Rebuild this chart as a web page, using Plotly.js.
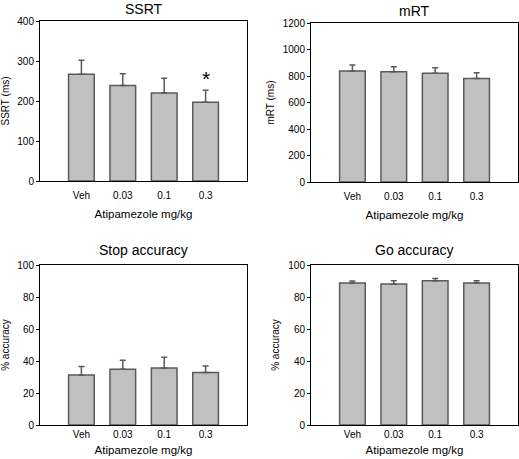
<!DOCTYPE html>
<html><head><meta charset="utf-8">
<script src="https://cdn.plot.ly/plotly-3.0.1.min.js"></script>
<style>body{margin:0;padding:0;background:#fff}#c{width:519px;height:459px}</style>
</head><body><div id="c"></div>
<script>
const doses = ['Veh', '0.03', '0.1', '0.3'];
const ssrtMean = [267, 239, 220, 197];
const ssrtErr  = [35, 29, 37, 30];
const mrtMean  = [838, 832, 820, 782];
const mrtErr   = [45, 38, 42, 43];
const stopMean = [31.2, 34.9, 35.7, 32.8];
const stopErr  = [5.4, 5.6, 6.7, 4.0];
const goMean   = [88.8, 88.2, 90.2, 88.8];
const goErr    = [1.2, 2.0, 1.4, 1.4];

const barFill = '#c0c0c0', barLine = '#5a5a5a';
function bar(y, e, xa, ya) {
  return {type:'bar', x:doses, y:y, xaxis:xa, yaxis:ya, width:0.62,
    marker:{color:barFill, line:{color:barLine, width:1.5}},
    error_y:{type:'data', array:e, symmetric:false, arrayminus:e.map(()=>0), color:barLine, thickness:1.5, width:3},
    hoverinfo:'none', showlegend:false};
}
const data = [
  bar(ssrtMean, ssrtErr, 'x', 'y'),
  bar(mrtMean, mrtErr, 'x2', 'y2'),
  bar(stopMean, stopErr, 'x3', 'y3'),
  bar(goMean, goErr, 'x4', 'y4')
];
const F = 'Liberation Sans, Arial, sans-serif';
function xax(dom, anchor, tls, ts) {
  return {domain:dom, anchor:anchor, type:'category', range:[-1, 4], showline:true, mirror:true,
    linecolor:'#000', linewidth:1, ticks:'', showgrid:false, zeroline:false, ticklabelstandoff:tls,
    tickfont:{family:F, size:10, color:'#000'},
    title:{text:'Atipamezole mg/kg', font:{family:F, size:11.5, color:'#000'}, standoff:ts}};
}
function yax(dom, anchor, range, dtick, title) {
  return {domain:dom, anchor:anchor, range:range, dtick:dtick, showline:true, mirror:true,
    linecolor:'#000', linewidth:1, ticks:'outside', ticklen:3, tickcolor:'#000', showgrid:false, zeroline:false,
    tickfont:{family:F, size:10, color:'#000'},
    title:{text:title, font:{family:F, size:10, color:'#000'}, standoff:6}};
}
const xd1 = [40/519, 247/519], xd2 = [311/519, 518/519];
const yd1 = [1-181/459, 1-21/459], yd2 = [1-182/459, 1-23/459], yd3 = [1-425/459, 1-265/459];
function ttl(text, x, y, ys) {
  return {text:text, xref:'paper', yref:'paper', x:x, y:y, yshift:ys, showarrow:false, xanchor:'center', yanchor:'bottom',
    font:{family:F, size:14, color:'#000', weight:'normal'}};
}
const layout = {
  width:519, height:459, margin:{l:0, r:0, t:0, b:0},
  paper_bgcolor:'#fff', plot_bgcolor:'#fff',
  xaxis: xax(xd1, 'y', 5, 9), yaxis: yax(yd1, 'x', [0, 400], 100, 'SSRT (ms)'),
  xaxis2: xax(xd2, 'y2', 5, 9), yaxis2: yax(yd2, 'x2', [0, 1200], 200, 'mRT (ms)'),
  xaxis3: xax(xd1, 'y3', 0, 6), yaxis3: yax(yd3, 'x3', [0, 100], 20, '% accuracy'),
  xaxis4: xax(xd2, 'y4', 0, 6), yaxis4: yax(yd3, 'x4', [0, 100], 20, '% accuracy'),
  annotations: [
    ttl('SSRT', (xd1[0]+xd1[1])/2, yd1[1], 2),
    ttl('mRT', (xd2[0]+xd2[1])/2, yd2[1], 2),
    ttl('Stop accuracy', (xd1[0]+xd1[1])/2, yd3[1], 5),
    ttl('Go accuracy', (xd2[0]+xd2[1])/2, yd3[1], 5),
    {text:'*', xref:'x', yref:'y', x:3, y:ssrtMean[3]+ssrtErr[3]+28, showarrow:false, yanchor:'middle',
     font:{family:F, size:21, color:'#000'}}
  ]
};
Plotly.newPlot('c', data, layout, {staticPlot:true, displayModeBar:false});
</script></body></html>
